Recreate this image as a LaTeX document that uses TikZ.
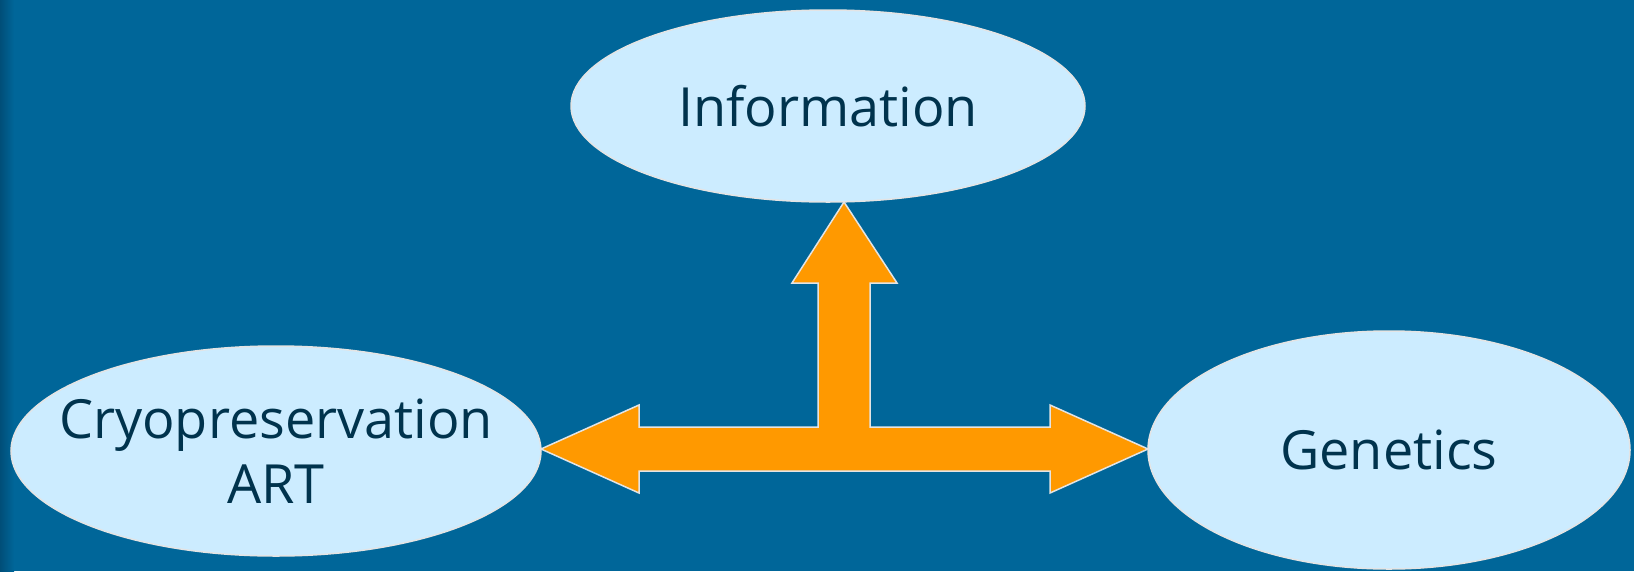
\documentclass[tikz,border=0pt]{standalone}
\usepackage{fontspec}
\setmainfont{Open Sans}
\usetikzlibrary{shapes.geometric,calc}
\definecolor{bg}{RGB}{0,102,153}
\definecolor{bgdark}{RGB}{0,78,120}
\definecolor{ellfill}{RGB}{204,236,255}
\definecolor{edge}{RGB}{228,228,228}
\definecolor{txt}{RGB}{0,51,77}
\definecolor{orng}{RGB}{255,153,0}
\tikzset{
  topic/.style={ellipse, draw=edge, line width=1.5pt, fill=ellfill, inner sep=0pt, outer sep=0pt},
  topictext/.style={text=txt, align=center, inner sep=0pt, font=\fontsize{54}{65}\selectfont},
  blockarrow/.style={fill=orng, draw=edge, line width=1.5pt, line join=miter}
}
\begin{document}
\begin{tikzpicture}[x=1pt,y=-1pt]
\useasboundingbox (0,0) rectangle (1634,571);
\fill[bg] (0,0) rectangle (1634,571);
\shade[left color=bgdark, right color=bg, shading angle=90] (0,0) rectangle (14,571);
\node[topic, minimum width=514, minimum height=192] (info) at (828,106) {};
\node[topic, minimum width=530, minimum height=210] (cryo) at (276,451) {};
\node[topic, minimum width=482, minimum height=238] (gen) at (1389,450) {};
\node[topictext] (infotxt) at (info.center) {Information};
\node[topictext] (cryotxt) at (cryo.center) {Cryopreservation\\ART};
\node[topictext] (gentxt) at (gen.center) {Genetics};
\coordinate (hub) at (844,449);
\coordinate (ltip) at (cryo.east |- hub);
\coordinate (rtip) at (gen.west |- hub);
\coordinate (utip) at (hub |- info.south);
\draw[blockarrow] (ltip) -- (639,405) -- (639,427) -- (818,427) -- (818,283) -- (792,283)
  -- (utip) -- (897,283) -- (870,283) -- (870,427) -- (1050,427) -- (1050,405)
  -- (rtip) -- (1050,493) -- (1050,471) -- (639,471) -- (639,493) -- cycle;
\end{tikzpicture}
\end{document}
